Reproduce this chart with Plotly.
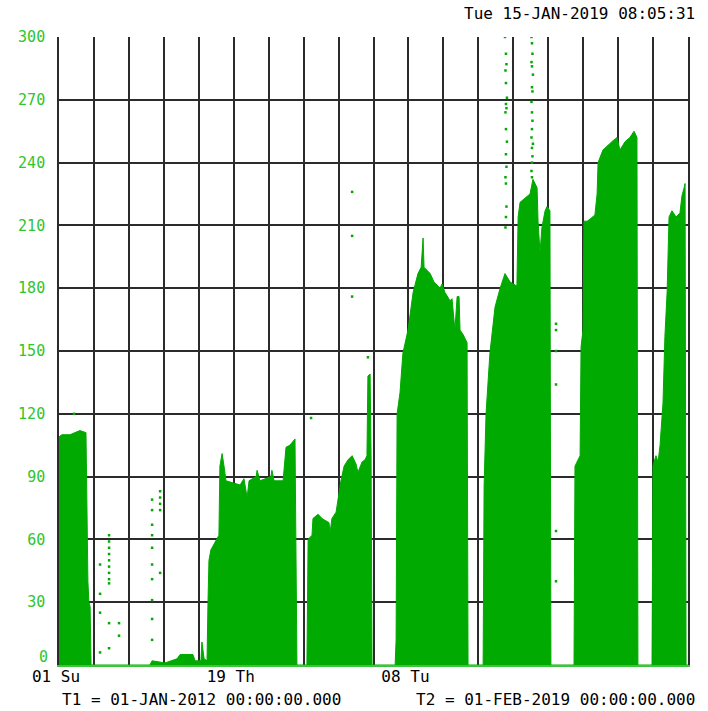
import pandas as pd
import plotly.graph_objects as go

# Record window
T1 = pd.Timestamp("2012-01-01")
T2 = pd.Timestamp("2019-02-01")

# Upper envelope of the plotted record: time as days since T1, and value
env_day = [
    0, 12, 45, 66, 86, 111, 115, 119, 123, 128, 132,
    374, 383, 436, 486, 498, 551, 560, 584, 588, 597, 609,
    613, 617, 625, 650, 658, 662, 671, 679, 687, 745, 761, 774, 782, 811, 815,
    827, 872, 876, 885, 922, 934, 950, 963, 971, 979,
    1020, 1025, 1041, 1045, 1066, 1082, 1111, 1115, 1123, 1140, 1148, 1160,
    1173, 1189, 1206, 1222, 1230, 1247, 1259, 1267, 1271, 1280, 1284, 1288,
    1383, 1387, 1391, 1403, 1415, 1436, 1457, 1477, 1490, 1498, 1502, 1527,
    1543, 1568, 1576, 1588, 1609, 1617, 1629, 1638, 1646, 1650, 1662, 1679, 1683,
    1745, 1749, 1757, 1773, 1794, 1815, 1835, 1856, 1884, 1889, 1897, 1917,
    1938, 1950, 1967, 1971, 1979, 1987, 2000, 2008, 2020, 2024,
    2119, 2123, 2144, 2148, 2156, 2160, 2173, 2185, 2205, 2214, 2218, 2238,
    2255, 2275, 2296, 2308, 2329, 2349, 2366, 2378, 2382,
    2440, 2444, 2456, 2465, 2473, 2485, 2493, 2502, 2510, 2522, 2539, 2555,
    2563, 2572, 2576, 2580, 2588,
]
env_val = [
    109, 110, 110, 111, 112, 111, 65, 40, 30, 28, 0,
    0, 2, 1, 3, 5, 5, 2, 2, 11, 3, 2,
    30, 50, 55, 60, 62, 95, 101, 95, 88, 86, 89, 80, 88, 90, 93,
    88, 90, 93, 88, 88, 104, 105, 107, 108, 0,
    0, 60, 62, 70, 72, 70, 68, 63, 70, 73, 80, 88,
    95, 98, 100, 96, 92, 97, 98, 100, 138, 139, 100, 0,
    0, 12, 120, 130, 149, 160, 178, 187, 190, 204, 190, 187,
    183, 180, 182, 178, 174, 175, 160, 176, 176, 160, 158, 154, 0,
    0, 85, 120, 149, 171, 180, 187, 183, 181, 214, 221, 223,
    225, 232, 228, 212, 197, 209, 217, 219, 217, 0,
    0, 95, 100, 152, 160, 212, 212, 213, 215, 225, 240, 246,
    248, 250, 252, 246, 250, 252, 255, 252, 0,
    0, 95, 100, 97, 105, 125, 157, 178, 214, 217, 214, 216,
    224, 228, 230, 0, 0,
]

# Isolated samples standing apart from the main mass
dot_day = [
    62,
    169, 169, 169, 169,
    206, 206, 206, 206, 206, 206, 206, 206, 206, 206, 206,
    247, 247,
    383, 383, 383, 383, 383, 383, 383, 383, 383, 383,
    416, 416, 416, 416, 416,
    1037,
    1206, 1206, 1206,
    1271,
    1835, 1839, 1841, 1837, 1839, 1843, 1839, 1841, 1837, 1839, 1843, 1839,
    1841, 1837, 1839, 1841, 1839, 1837,
    1944, 1946, 1948, 1944, 1946, 1950, 1946, 1948, 1944, 1946, 1948, 1946,
    1944, 1950, 1946, 1948, 1946, 1944, 1946,
    2045, 2045, 2045, 2045, 2045, 2045,
]
dot_val = [
    120,
    48, 34, 25, 6,
    62, 59, 56, 53, 50, 47, 44, 41, 39, 20, 8,
    20, 14,
    79, 74, 67, 62, 56, 48, 41, 31, 22, 12,
    83, 80, 77, 74, 44,
    118,
    226, 205, 176,
    147,
    300, 292, 287, 284, 278, 271, 268, 266, 264, 256, 250, 244,
    238, 233, 230, 219, 214, 209,
    300, 297, 292, 288, 286, 282, 276, 274, 269, 264, 260, 256,
    252, 249, 247, 243, 240, 236, 233,
    163, 160, 150, 134, 64, 40,
]

# Axis labelling
x_tick_text = ["01 Su", "", "", "", "", "19 Th", "", "", "", "",
               "08 Tu", "", "", "", "", "", "", "", "01 Fr"]
y_tick_vals = list(range(0, 301, 30))
# the zero label sits a little higher, so it is placed on its own below
y_tick_text = [str(v) if v > 0 else "" for v in y_tick_vals]

stamp_text = "Tue 15-JAN-2019 08:05:31"
t1_text = "T1 = 01-JAN-2012 00:00:00.000"
t2_text = "T2 = 01-FEB-2019 00:00:00.000"

GREEN = "#00aa00"
LABEL_GREEN = "#2ec52e"
MONO = "DejaVu Sans Mono"

env_x = T1 + pd.to_timedelta(env_day, unit="D")
dot_x = T1 + pd.to_timedelta(dot_day, unit="D")
n_cols = len(x_tick_text) - 1
x_tick_vals = [T1 + i * (T2 - T1) / n_cols for i in range(n_cols + 1)]

fig = go.Figure()
fig.add_trace(go.Scatter(
    x=env_x, y=env_val, mode="lines", fill="tozeroy",
    line=dict(color=GREEN, width=1), fillcolor=GREEN, hoverinfo="skip",
))
fig.add_trace(go.Scatter(
    x=dot_x, y=dot_val, mode="markers",
    marker=dict(color=GREEN, size=2.5, symbol="square", line=dict(width=0)),
    hoverinfo="skip",
))

fig.update_layout(
    width=708, height=711,
    margin=dict(l=59, r=20, t=37, b=46),
    plot_bgcolor="white", paper_bgcolor="white",
    showlegend=False,
    font=dict(family=MONO),
)
fig.update_xaxes(
    type="date", range=[T1, T2],
    tickvals=x_tick_vals, ticktext=x_tick_text,
    showgrid=True, gridcolor="#2b2b2b", gridwidth=1.6,
    ticks="", ticklabelshift=-3, ticklabelstandoff=-4,
    showline=True, linecolor="#3cc43c", linewidth=2,
    zeroline=False,
    tickfont=dict(family=MONO, size=16, color="black"),
)
fig.update_yaxes(
    range=[0, 300],
    tickvals=y_tick_vals, ticktext=y_tick_text,
    showgrid=True, gridcolor="#2b2b2b", gridwidth=1.6,
    ticks="", ticklabelstandoff=9,
    showline=True, mirror=True, linecolor="#2b2b2b", linewidth=1.6,
    zeroline=False,
    tickfont=dict(family=MONO, size=15, color=LABEL_GREEN),
)

fig.add_annotation(text="0", xref="paper", yref="y",
                   x=0, y=0, xanchor="right", yanchor="bottom",
                   xshift=-9, yshift=-3, showarrow=False,
                   font=dict(family=MONO, size=15, color=LABEL_GREEN))
fig.add_annotation(text=stamp_text, xref="paper", yref="paper",
                   x=(697 - 59) / 629, y=(665 - 13) / 628,
                   xanchor="right", yanchor="middle", showarrow=False,
                   font=dict(family=MONO, size=16, color="black"))
fig.add_annotation(text=t1_text, xref="paper", yref="paper",
                   x=(60 - 59) / 629, y=(665 - 699) / 628,
                   xanchor="left", yanchor="middle", showarrow=False,
                   font=dict(family=MONO, size=16, color="black"))
fig.add_annotation(text=t2_text, xref="paper", yref="paper",
                   x=(697 - 59) / 629, y=(665 - 699) / 628,
                   xanchor="right", yanchor="middle", showarrow=False,
                   font=dict(family=MONO, size=16, color="black"))

fig.write_html("out.html")
